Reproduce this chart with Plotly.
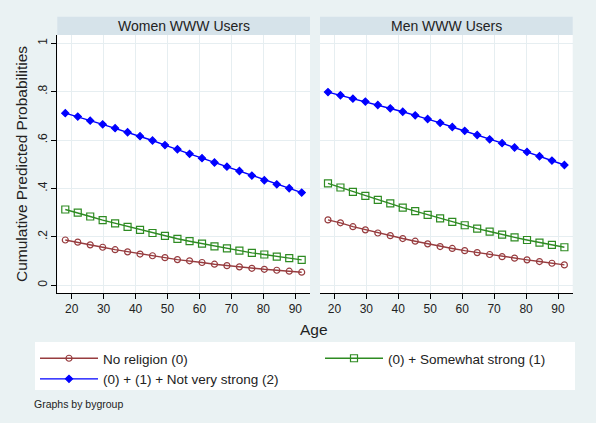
import plotly.graph_objects as go

ages = [18.0, 21.9, 25.8, 29.7, 33.6, 37.5, 41.4, 45.3, 49.2, 53.1,
        56.9, 60.8, 64.7, 68.6, 72.5, 76.4, 80.3, 84.2, 88.1, 92.0]

women_none = [.187, .178, .167, .157, .147, .138, .129, .122, .114, .106,
              .101, .094, .087, .081, .076, .070, .066, .062, .058, .054]
women_some = [.313, .300, .284, .269, .256, .241, .229, .216, .204, .192,
              .182, .172, .161, .152, .143, .134, .127, .118, .112, .105]
women_notvery = [.711, .697, .680, .665, .649, .632, .616, .598, .579, .562,
                 .543, .525, .507, .490, .472, .453, .434, .417, .401, .383]

men_none = [.270, .258, .242, .229, .216, .205, .193, .182, .171, .160,
            .152, .143, .135, .127, .118, .112, .105, .098, .091, .084]
men_some = [.421, .404, .386, .369, .353, .338, .321, .306, .291, .276,
            .262, .248, .234, .222, .209, .198, .187, .176, .167, .157]
men_notvery = [.798, .785, .771, .759, .745, .731, .717, .702, .687, .671,
               .654, .638, .621, .603, .587, .569, .551, .533, .515, .497]

panel_titles = ["Women WWW Users", "Men WWW Users"]
series_names = ["No religion (0)", "(0) + Somewhat strong (1)", "(0) + (1) + Not very strong (2)"]
xticks = [20, 30, 40, 50, 60, 70, 80, 90]
yticks = [0, .2, .4, .6, .8, 1]
yticklabels = ["0", ".2", ".4", ".6", ".8", "1"]

W, H = 596, 423
FONT = "Liberation Sans, Arial, sans-serif"
RED = "#973c3f"
GREEN = "#2e8b22"
BLUE = "#0000ff"

styles = [
    dict(color=RED, symbol="circle-open", size=6, legend="legend"),
    dict(color=GREEN, symbol="square-open", size=7, legend="legend2"),
    dict(color=BLUE, symbol="diamond", size=5.5, legend="legend"),
]
legend_rank = [1, 1, 2]

fig = go.Figure()
panels = [(women_none, women_some, women_notvery), (men_none, men_some, men_notvery)]
for p, data in enumerate(panels):
    xa = "x" if p == 0 else "x2"
    ya = "y" if p == 0 else "y2"
    for i, vals in enumerate(data):
        st = styles[i]
        fig.add_trace(go.Scatter(
            x=ages, y=vals, mode="lines+markers", name=series_names[i],
            xaxis=xa, yaxis=ya, showlegend=(p == 0), legend=st["legend"],
            legendrank=legend_rank[i],
            line=dict(color=st["color"], width=1.4),
            marker=dict(color=st["color"], symbol=st["symbol"], size=st["size"],
                        line=dict(color=st["color"], width=1.2)),
        ))

def px_x(v):
    return v / W

def px_y(v):
    return 1 - v / H

dom_left = [px_x(57.3), px_x(310)]
dom_right = [px_x(320), px_x(572.7)]
dom_y = [px_y(293), px_y(35)]

xcommon = dict(range=[15.5, 94.6], tickvals=xticks, ticks="outside", ticklen=5,
               tickcolor="black", showline=True, linecolor="black", linewidth=1,
               showgrid=True, gridcolor="#e6eef1", gridwidth=1, zeroline=False,
               tickfont=dict(size=12, color="#222", family=FONT))
ycommon = dict(range=[-0.032, 1.034], tickvals=yticks, showgrid=True,
               gridcolor="#e6eef1", gridwidth=1, zeroline=False)

legend_common = dict(orientation="v", xanchor="left", yanchor="top",
                     bgcolor="rgba(0,0,0,0)", font=dict(size=13.5, color="#222"),
                     itemwidth=58, tracegroupgap=0, traceorder="normal",
                     borderwidth=0)

fig.update_layout(
    width=W, height=H, margin=dict(l=0, r=0, t=0, b=0),
    paper_bgcolor="#eaf2f3", plot_bgcolor="white",
    font=dict(family=FONT, color="#222"),
    xaxis=dict(domain=dom_left, anchor="y", **xcommon),
    xaxis2=dict(domain=dom_right, anchor="y2", **xcommon),
    yaxis=dict(domain=dom_y, anchor="x", ticktext=yticklabels, ticks="outside",
               ticklen=5, tickcolor="black", showline=True, linecolor="black",
               linewidth=1, tickangle=-90,
               tickfont=dict(size=12, color="#222", family=FONT),
               title=dict(text="Cumulative Predicted Probabilities",
                          font=dict(size=15.5, color="#222"), standoff=4),
               **ycommon),
    yaxis2=dict(domain=dom_y, anchor="x2", showticklabels=False, showline=False,
                **ycommon),
    showlegend=True,
    legend=dict(x=px_x(35), y=px_y(343), **legend_common),
    legend2=dict(x=px_x(320), y=px_y(343), **legend_common),
)

shapes = []
annotations = []
for dom, title in zip([dom_left, dom_right], panel_titles):
    shapes.append(dict(type="rect", xref="paper", yref="paper", x0=dom[0], x1=dom[1],
                       y0=px_y(35), y1=px_y(16.7), fillcolor="#d6e3ea", line=dict(width=0),
                       layer="below"))
    annotations.append(dict(text=title, xref="paper", yref="paper", x=(dom[0] + dom[1]) / 2,
                            y=px_y(25.8), showarrow=False, font=dict(size=14, color="#222"),
                            xanchor="center", yanchor="middle"))
shapes.append(dict(type="rect", xref="paper", yref="paper", x0=px_x(35), x1=px_x(575),
                   y0=px_y(390), y1=px_y(342), fillcolor="white", line=dict(width=0),
                   layer="below"))
annotations.append(dict(text="Age", xref="paper", yref="paper", x=px_x(314), y=px_y(329),
                        showarrow=False, font=dict(size=15.5, color="#222"),
                        xanchor="center", yanchor="middle"))
annotations.append(dict(text="Graphs by bygroup", xref="paper", yref="paper", x=px_x(32),
                        y=px_y(404), showarrow=False, font=dict(size=10.5, color="#222"),
                        xanchor="left", yanchor="middle"))
fig.update_layout(shapes=shapes, annotations=annotations)

fig.write_html("out.html")
